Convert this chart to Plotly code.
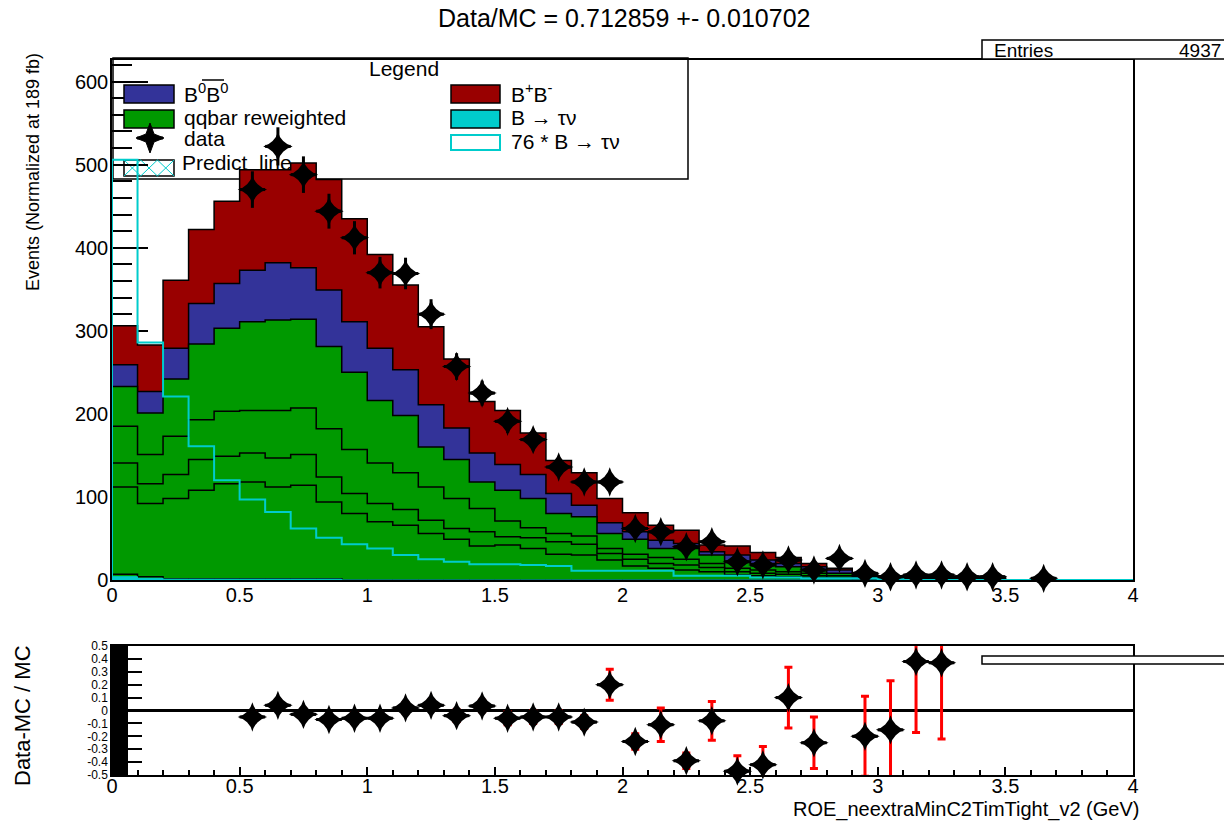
import plotly.graph_objects as go

W, H = 1224, 822
FONT = "Liberation Sans, Arial, Helvetica, sans-serif"

RED = "rgb(153,0,0)"
BLUE = "rgb(51,51,153)"
GREEN = "rgb(0,153,0)"
CYAN = "rgb(0,204,204)"

# ---------------- data ----------------
bin_edges = [round(0.1 * i, 1) for i in range(41)]   # 40 bins, 0..4 GeV

# stacked levels (tops of each stacked component)
top_BpBm = [306, 283, 361, 422, 456, 494, 494, 502, 482, 435,
            392, 355, 305, 266, 215, 204, 177, 144, 129, 98,
            81, 66, 60, 42, 41, 33, 27, 20, 14, 7,
            5, 4, 4, 4, 4, 0, 0, 0, 0, 0]
top_B0B0 = [259, 227, 279, 333, 357, 373, 382, 376, 349, 311,
            279, 253, 211, 183, 153, 139, 127, 104, 90, 69,
            58, 48, 44, 34, 30, 24, 20, 16, 12, 5,
            3, 3, 3, 3, 3, 0, 0, 0, 0, 0]
top_qq = [233, 201, 242, 284, 303, 311, 313, 314, 281, 250,
          216, 198, 160, 145, 118, 108, 98, 80, 76, 56,
          49, 38, 38, 30, 22, 20, 16, 12, 8, 4,
          2, 2, 2, 2, 2, 0, 0, 0, 0, 0]
qq_level1 = [185, 151, 173, 193, 203, 204, 204, 207, 182, 157,
             141, 129, 112, 98, 86, 71, 63, 56, 53, 38,
             31, 27, 25, 20, 14, 12, 10, 8, 5, 3,
             1, 1, 1, 1, 1, 0, 0, 0, 0, 0]
qq_level2 = [141, 116, 127, 145, 149, 153, 147, 151, 124, 104,
             92, 85, 72, 62, 58, 52, 51, 46, 43, 32,
             25, 20, 18, 15, 10, 8, 7, 5, 3, 2,
             1, 1, 1, 1, 1, 0, 0, 0, 0, 0]
qq_level3 = [112, 92, 98, 108, 116, 118, 112, 114, 94, 80,
             70, 66, 56, 49, 41, 42, 38, 31, 30, 24,
             17, 14, 12, 10, 6, 5, 4, 3, 2, 1,
             0.5, 0.5, 0.5, 0.5, 0.5, 0, 0, 0, 0, 0]
other_bottom = [7, 4, 1.5, 1.5, 1.5, 1.5, 1.5, 1.5, 1.5, 0,
                0, 0, 0, 0, 0, 0, 0, 0, 0, 0,
                0, 0, 0, 0, 0, 0, 0, 0, 0, 0,
                0, 0, 0, 0, 0, 0, 0, 0, 0, 0]
btaunu = [4, 2, 1, 1, 1, 1, 1, 1, 1, 0,
          0, 0, 0, 0, 0, 0, 0, 0, 0, 0,
          0, 0, 0, 0, 0, 0, 0, 0, 0, 0,
          0, 0, 0, 0, 0, 0, 0, 0, 0, 0]
btaunu_x76 = [506, 286, 221, 161, 120, 97, 82, 62, 51, 43,
              38, 30, 25, 22, 19, 19, 18, 17, 11, 11,
              11, 11, 5, 5, 5, 3, 3, 2, 2, 2,
              1, 0, 0, 0, 0, 0, 0, 0, 0, 0]

data_x = [0.55, 0.65, 0.75, 0.85, 0.95, 1.05, 1.15, 1.25, 1.35, 1.45,
          1.55, 1.65, 1.75, 1.85, 1.95, 2.05, 2.15, 2.25, 2.35, 2.45,
          2.55, 2.65, 2.75, 2.85, 2.95, 3.05, 3.15, 3.25, 3.35, 3.45, 3.65]
data_y = [470, 522, 488, 444, 412, 370, 369, 320, 257, 225,
          191, 169, 136, 118, 118, 62, 58, 40, 46, 22,
          18, 24, 12, 26, 8, 4, 6, 6, 4, 4, 2]
data_err = [22, 23, 22, 21, 20, 19, 19, 18, 16, 15,
            14, 13, 12, 11, 11, 8, 8, 6, 7, 5,
            4, 5, 3.5, 5, 3, 2, 2.5, 2.5, 2, 2, 1.4]
bin_half_width = 0.05

ratio_x = [0.55, 0.65, 0.75, 0.85, 0.95, 1.05, 1.15, 1.25, 1.35, 1.45,
           1.55, 1.65, 1.75, 1.85, 1.95, 2.05, 2.15, 2.25, 2.35, 2.45,
           2.55, 2.65, 2.75, 2.95, 3.05, 3.15, 3.25]
ratio_y = [-0.05, 0.04, -0.03, -0.07, -0.06, -0.06, 0.02, 0.04, -0.04, 0.035,
           -0.06, -0.05, -0.05, -0.09, 0.2, -0.24, -0.11, -0.39, -0.08, -0.47,
           -0.42, 0.10, -0.25, -0.2, -0.15, 0.38, 0.37]
ratio_err = [0.04, 0.04, 0.04, 0.04, 0.04, 0.04, 0.04, 0.04, 0.045, 0.045,
             0.05, 0.05, 0.05, 0.05, 0.12, 0.06, 0.13, 0.06, 0.15, 0.12,
             0.14, 0.235, 0.2, 0.31, 0.38, 0.55, 0.59]

main_xticks = [0, 0.5, 1, 1.5, 2, 2.5, 3, 3.5, 4]
main_xticktext = ["0", "0.5", "1", "1.5", "2", "2.5", "3", "3.5", "4"]
main_yticks = [0, 100, 200, 300, 400, 500, 600]
ratio_yticks = [-0.5, -0.4, -0.3, -0.2, -0.1, 0, 0.1, 0.2, 0.3, 0.4, 0.5]
ratio_yticktext = ["-0.5", "-0.4", "-0.3", "-0.2", "-0.1", "0", "0.1", "0.2", "0.3", "0.4", "0.5"]

title_text = "Data/MC = 0.712859 +- 0.010702"
entries_text = "4937"

# ---------------- layout helpers ----------------
X0, X1 = 112, 1133          # pixel extent of x axes
MY0, MY1 = 580, 60          # main pad (bottom, top) pixels
RY0, RY1 = 775, 646         # ratio pad
YMAX = 626


def PX(px):
    return px / W


def PY(py):
    return 1 - py / H


def px2x(px):
    return (px - X0) / (X1 - X0) * 4


def px2y(py):
    return (MY0 - py) / (MY0 - MY1) * YMAX


def step(vals):
    xs = [bin_edges[0]] + bin_edges[:-1] + [bin_edges[-1], bin_edges[-1]]
    ys = [0] + list(vals) + [vals[-1], 0]
    return xs, ys


fig = go.Figure()

# legend text that is partly hidden by the histograms in the original
fig.add_trace(go.Scatter(x=[px2x(182)], y=[px2y(165)], mode="text", text=["Predict_line"],
                         textposition="middle right",
                         textfont=dict(size=21, family=FONT, color="black"),
                         showlegend=False, hoverinfo="skip"))

for vals, col in [(top_BpBm, RED), (top_B0B0, BLUE), (top_qq, GREEN),
                  (qq_level1, GREEN), (qq_level2, GREEN), (qq_level3, GREEN),
                  (other_bottom, GREEN)]:
    xs, ys = step(vals)
    fig.add_trace(go.Scatter(x=xs, y=ys, mode="lines", fill="tozeroy", fillcolor=col,
                             line=dict(color="black", width=1.5, shape="hv"),
                             showlegend=False, hoverinfo="skip"))

xs, ys = step(btaunu)
fig.add_trace(go.Scatter(x=xs, y=ys, mode="lines", fill="tozeroy", fillcolor=CYAN,
                         line=dict(color=CYAN, width=1, shape="hv"),
                         showlegend=False, hoverinfo="skip"))

xs, ys = step(btaunu_x76)
fig.add_trace(go.Scatter(x=xs, y=ys, mode="lines",
                         line=dict(color=CYAN, width=2, shape="hv"),
                         showlegend=False, hoverinfo="skip"))

fig.add_trace(go.Scatter(x=data_x, y=data_y, mode="markers",
                         marker=dict(symbol="star-diamond", size=21, color="black",
                                     line=dict(width=0)),
                         error_y=dict(type="data", array=data_err, color="black",
                                      thickness=3, width=0),
                         error_x=dict(type="constant", value=bin_half_width, color="black",
                                      thickness=3, width=0),
                         cliponaxis=False, showlegend=False))

# ratio pad
fig.add_trace(go.Scatter(x=ratio_x, y=ratio_y, mode="markers", xaxis="x2", yaxis="y2",
                         marker=dict(size=1, color="rgba(0,0,0,0)"),
                         error_y=dict(type="data", array=ratio_err, color="red",
                                      thickness=3, width=4),
                         cliponaxis=True, showlegend=False, hoverinfo="skip"))
fig.add_trace(go.Scatter(x=ratio_x, y=ratio_y, mode="markers", xaxis="x2", yaxis="y2",
                         marker=dict(symbol="star-diamond", size=21, color="black",
                                     line=dict(width=0)),
                         error_x=dict(type="constant", value=bin_half_width, color="black",
                                      thickness=3, width=0),
                         cliponaxis=False, showlegend=False))

shapes = []
# zero line of the ratio
shapes.append(dict(type="line", xref="x2", yref="y2", x0=0, x1=4, y0=0, y1=0,
                   line=dict(color="black", width=3), layer="below"))


def rect(x0, y0, x1, y1, fill="rgba(0,0,0,0)", lc="black", lw=1.5, layer="above"):
    return dict(type="rect", xref="paper", yref="paper",
                x0=PX(x0), x1=PX(x1), y0=PY(y1), y1=PY(y0),
                fillcolor=fill, line=dict(color=lc, width=lw), layer=layer)


def seg(x0, y0, x1, y1, color="black", width=1.5, layer="above"):
    return dict(type="line", xref="paper", yref="paper",
                x0=PX(x0), x1=PX(x1), y0=PY(y0), y1=PY(y1),
                line=dict(color=color, width=width), layer=layer)


# legend box
shapes.append(rect(113, 58, 688, 179, layer="below"))
shapes.append(rect(124, 85, 174, 103, fill=BLUE))
shapes.append(rect(124, 110, 174, 128, fill=GREEN))
shapes.append(rect(124, 160, 174, 176, fill="white", layer="below"))
for k in range(3):
    a = 124 + 16.7 * k
    b = a + 16.7
    shapes.append(seg(a, 160, b, 176, color=CYAN, width=1, layer="below"))
    shapes.append(seg(a, 176, b, 160, color=CYAN, width=1, layer="below"))
shapes.append(rect(451, 85, 500, 103, fill=RED))
shapes.append(rect(451, 110, 500, 128, fill=CYAN))
shapes.append(rect(451, 135, 500, 150, fill="white", lc=CYAN, lw=2))
# overline of anti-B
shapes.append(seg(202, 80, 224, 80, width=1.5))
# legend data marker
cx, cy = 150, 138
pts = [(cx + 14, cy), (cx + 4, cy - 4), (cx, cy - 15), (cx - 4, cy - 4),
       (cx - 14, cy), (cx - 4, cy + 4), (cx, cy + 15), (cx + 4, cy + 4)]
path = "M " + " L ".join(f"{PX(a):.5f},{PY(b):.5f}" for a, b in pts) + " Z"
shapes.append(dict(type="path", xref="paper", yref="paper", path=path,
                   fillcolor="black", line=dict(color="black", width=1)))
shapes.append(seg(cx - 13, cy, cx + 13, cy, width=3))
# stats boxes
shapes.append(rect(982, 40, 1232, 59, fill="white"))
shapes.append(rect(982, 656, 1232, 664, fill="white"))

ann = []


def text(x, y, s, size, xanchor="left", angle=0, yanchor="middle"):
    ann.append(dict(xref="paper", yref="paper", x=PX(x), y=PY(y), text=s,
                    showarrow=False, xanchor=xanchor, yanchor=yanchor, textangle=angle,
                    font=dict(family=FONT, size=size, color="black")))


text(624, 18, title_text, 25, xanchor="center")
text(404, 68, "Legend", 21, xanchor="center")
text(182, 93, "B<sup>0</sup>B<sup>0</sup>", 21)
text(182, 118, "qqbar reweighted", 21)
text(182, 139, "data", 21)
text(509, 93, "B<sup>+</sup>B<sup>-</sup>", 21)
text(509, 118, "B \u2192 \u03c4\u03bd", 21)
text(509, 141, "76 * B \u2192 \u03c4\u03bd", 21)
text(992, 50, "Entries", 19)
text(1223, 50, entries_text, 19, xanchor="right")
text(33, 172, "Events (Normalized at 189 fb)", 18, xanchor="center", angle=-90)
text(22, 716, "Data-MC / MC", 22, xanchor="center", angle=-90)
text(1141, 809, "ROE_neextraMinC2TimTight_v2 (GeV)", 20, xanchor="right")

axis_common = dict(showline=True, mirror=True, linecolor="black", linewidth=1.5,
                   showgrid=False, zeroline=False, tickcolor="black", automargin=False,
                   tickfont=dict(family=FONT, size=20, color="black"))

fig.update_layout(
    template="none",
    width=W, height=H, autosize=False,
    margin=dict(l=0, r=0, t=0, b=0, pad=0),
    paper_bgcolor="white", plot_bgcolor="white",
    showlegend=False,
    font=dict(family=FONT, color="black"),
    xaxis=dict(domain=[PX(X0), PX(X1)], range=[0, 4], anchor="y",
               tickvals=main_xticks, ticktext=main_xticktext, ticks="",
               ticklabelstandoff=-4,
               layer="below traces", **axis_common),
    yaxis=dict(domain=[PY(MY0), PY(MY1)], range=[0, YMAX], anchor="x",
               tickvals=main_yticks, ticks="inside", ticklen=36, tickwidth=1.5,
               ticklabelstandoff=-2,
               minor=dict(dtick=20, tick0=0, ticks="inside", ticklen=20, tickwidth=1.5,
                          tickcolor="black", showgrid=False),
               layer="below traces", **axis_common),
    xaxis2=dict(domain=[PX(X0), PX(X1)], range=[0, 4], anchor="y2",
                tickvals=main_xticks, ticktext=main_xticktext, ticks="inside",
                ticklen=8, tickwidth=1.5, ticklabelstandoff=-8,
                minor=dict(dtick=0.1, tick0=0, ticks="inside", ticklen=5, tickwidth=1.5,
                           tickcolor="black", showgrid=False),
                **axis_common),
    yaxis2=dict(domain=[PY(RY0), PY(RY1)], range=[-0.5, 0.5], anchor="x2",
                tickvals=ratio_yticks, ticktext=ratio_yticktext, ticks="inside",
                ticklen=30, tickwidth=1.5,
                minor=dict(dtick=0.01, tick0=0, ticks="inside", ticklen=16, tickwidth=2,
                           tickcolor="black", showgrid=False),
                showline=True, mirror=True, linecolor="black", linewidth=1.5,
                showgrid=False, zeroline=False, tickcolor="black", automargin=False,
                tickfont=dict(family=FONT, size=12, color="black")),
    shapes=shapes,
    annotations=ann,
)

fig.write_html("out.html")
